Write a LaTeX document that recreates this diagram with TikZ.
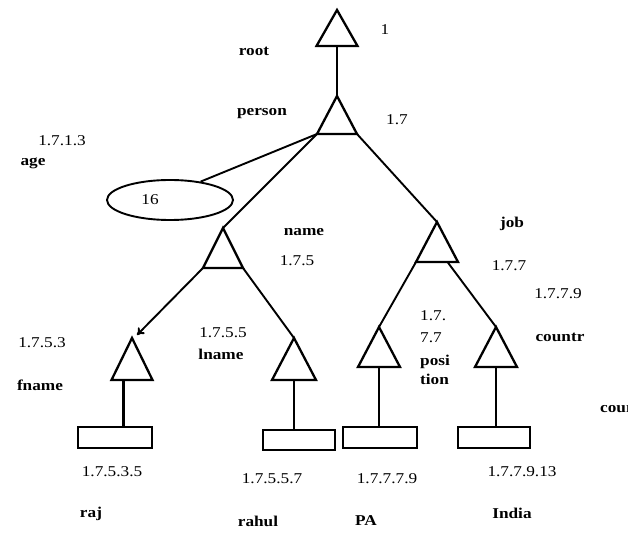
\documentclass[tikz,border=0pt]{standalone}
\usepackage{fontspec}
\newfontfamily\labelfont[FakeStretch=1.15]{Liberation Serif}
\usetikzlibrary{arrows.meta,shapes.geometric}

\tikzset{
  num/.style={font=\labelfont\fontsize{15}{17}\selectfont, inner sep=0pt},
  word/.style={font=\labelfont\bfseries\fontsize{15}{17}\selectfont, inner sep=0pt},
  edge/.style={line width=1.9pt},
  leaf/.style={draw, line width=1.5pt, minimum height=21pt, inner sep=0pt},
  valnode/.style={draw, ellipse, line width=1.9pt, minimum width=126pt, minimum height=40pt, inner sep=0pt},
  % a subtree marker: apex (-a), base corners (-l) and (-r), base centre (-c)
  pics/tri/.style args={#1/#2}{code={
    \coordinate (-a) at (0,0);
    \coordinate (-l) at (-#1/2,#2);
    \coordinate (-r) at (#1/2,#2);
    \coordinate (-c) at (0,#2);
    \coordinate (-q) at (#1/4,#2);
    \draw[line width=2.3pt, line join=miter] (-a) -- (-l) -- (-r) -- cycle;
  }}
}

\begin{document}
\begin{tikzpicture}[x=1pt,y=-1pt]
\useasboundingbox (0,0) rectangle (628,534);
\clip (0,0) rectangle (628,534);

% subtree markers
\pic (root)    at (337,10)  {tri=41/36};
\pic (person)  at (337,96)  {tri=40/38};
\pic (name)    at (223,228) {tri=40/40};
\pic (job)     at (437,222) {tri=42/40};
\pic (pos)     at (379,327) {tri=42/40};
\pic (country) at (496,327) {tri=42/40};
\pic (fname)   at (132,338) {tri=41/42};
\pic (lname)   at (294,338) {tri=44/42};

% value holders
\node[valnode] (agev) at (170,200) {};
\node[leaf, minimum width=74pt] (r1) at (115,437.5) {};
\node[leaf, minimum width=72pt, minimum height=20pt] (r2) at (299,440) {};
\node[leaf, minimum width=74pt] (r3) at (380,437.5) {};
\node[leaf, minimum width=72pt] (r4) at (494,437.5) {};

% connectors
\coordinate (ftip) at (137,335);
\coordinate (fstem) at (123,380);
\draw[edge] (root-c) -- (person-a);
\draw[edge] (person-l) -- (agev.31);
\draw[edge] (person-l) -- (name-a);
\draw[edge] (person-r) -- (job-a);
\draw[edge] (job-l) -- (pos-a);
\draw[edge] (job-q) -- (country-a);
\draw[edge, -{To[length=7pt,width=9pt]}] (name-l) -- (ftip);
\draw[edge] (name-r) -- (lname-a);
\draw[line width=3pt] (fstem) -- (fstem |- r1.north);
\draw[edge] (lname-c) -- (lname-c |- r2.north);
\draw[edge] (pos-c) -- (pos-c |- r3.north);
\draw[edge] (country-c) -- (country-c |- r4.north);

% numbers
\node[num] (n1)     at (385,30)  {1};
\node[num] (n17)    at (397,120) {1.7};
\node[num] (n1713)  at (62,141)  {1.7.1.3};
\node[num] (n16)    at (150,200) {16};
\node[num] (n175)   at (297,261) {1.7.5};
\node[num] (n177)   at (509,266) {1.7.7};
\node[num] (n1779)  at (558,294) {1.7.7.9};
\node[num, anchor=west] (n177a) at (420,316) {1.7.};
\node[num, anchor=west] (n177b) at (420,338) {7.7};
\node[num] (n1753)  at (42,343)  {1.7.5.3};
\node[num] (n1755)  at (223,333) {1.7.5.5};
\node[num] (n17535) at (112,472) {1.7.5.3.5};
\node[num] (n17557) at (272,479) {1.7.5.5.7};
\node[num] (n17779) at (387,479) {1.7.7.7.9};
\node[num] (n177913) at (522,472) {1.7.7.9.13};

% element names and values
\node[word] (wroot)   at (254,51)  {root};
\node[word] (wperson) at (262,114) {person};
\node[word] (wage)    at (33,163)  {age};
\node[word] (wname)   at (304,232) {name};
\node[word] (wjob)    at (512,224) {job};
\node[word] (wcountr) at (560,337) {countr};
\node[word, anchor=west] (wposa) at (420,362) {posi};
\node[word, anchor=west] (wposb) at (420,379) {tion};
\node[word] (wfname)  at (40,385)  {fname};
\node[word] (wlname)  at (221,354) {lname};
\node[word, anchor=west] (wcountry) at (600,410) {country};
\node[word] (wraj)    at (91,514)  {raj};
\node[word] (wrahul)  at (258,521) {rahul};
\node[word] (wpa)     at (366,521) {PA};
\node[word] (windia)  at (512,513) {India};
\end{tikzpicture}
\end{document}
